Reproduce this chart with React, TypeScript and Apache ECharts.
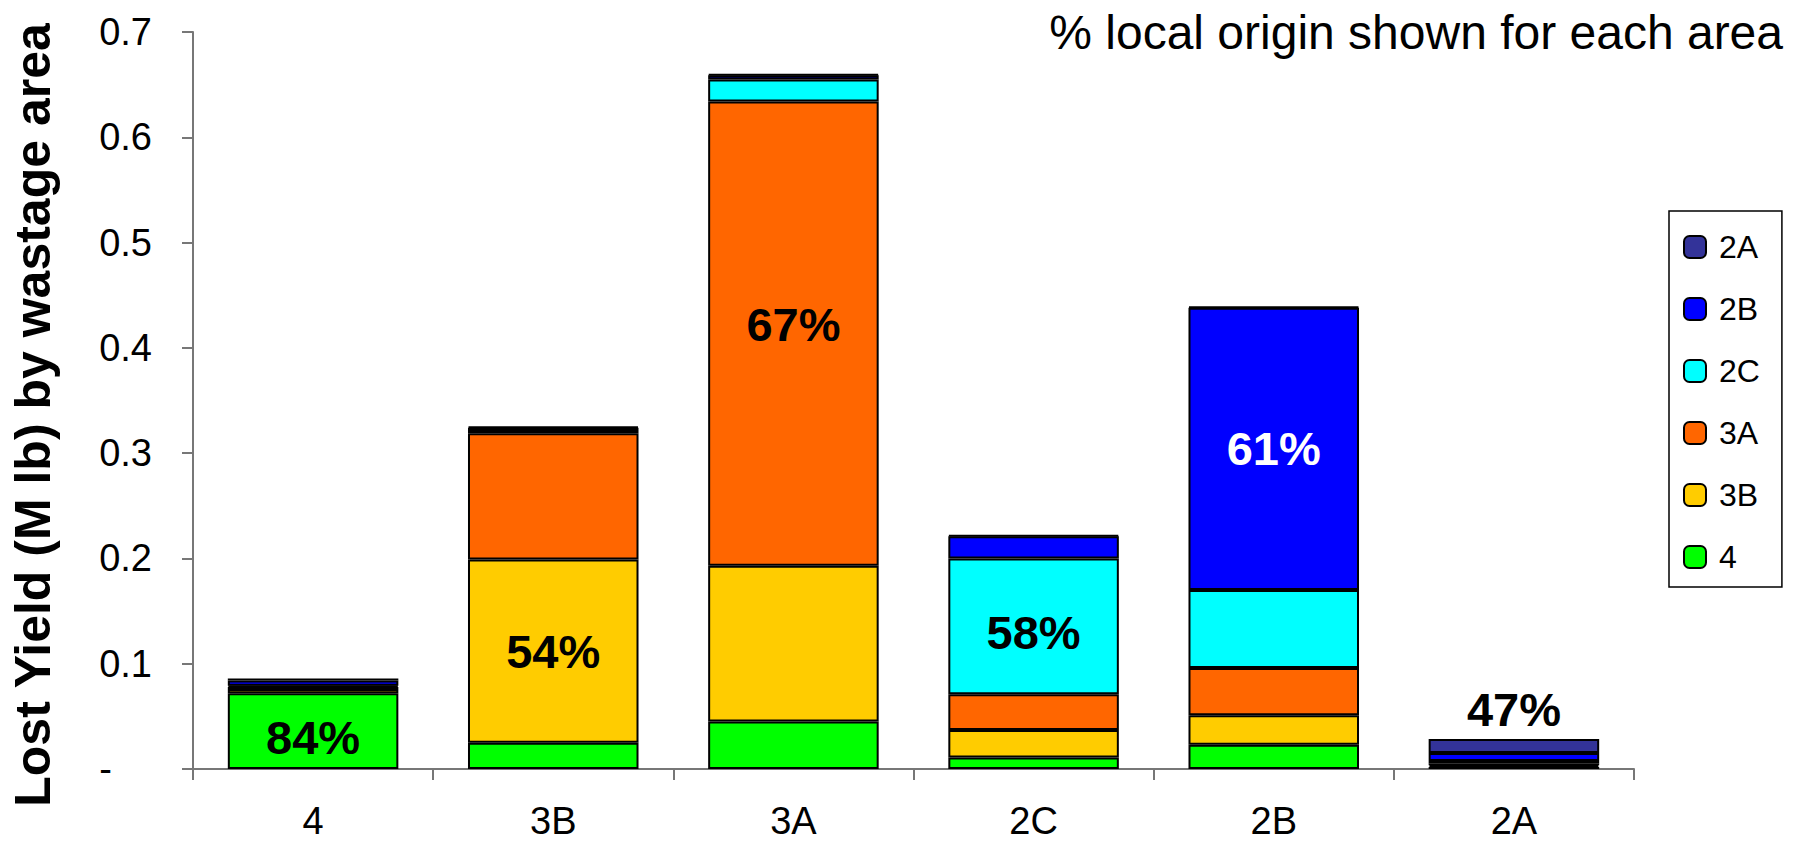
import React, { useEffect, useRef } from "react";
import * as echarts from "echarts";

// Wastage areas along the x axis
const categories = ["4", "3B", "3A", "2C", "2B", "2A"];

// Lost yield (M lb) by area of origin, one value per wastage area
const origin4 = [0.072, 0.025, 0.045, 0.011, 0.023, 0.002];
const origin3B = [0.004, 0.174, 0.148, 0.026, 0.028, 0.0015];
const origin3A = [0.002, 0.12, 0.441, 0.034, 0.045, 0.002];
const origin2C = [0.001, 0.002, 0.021, 0.129, 0.074, 0.0021];
const origin2B = [0.005, 0.003, 0.004, 0.021, 0.268, 0.0075];
const origin2A = [0.002, 0.001, 0.001, 0.001, 0.001, 0.0134];

// Stacking order, bottom to top
const seriesNames = ["4", "3B", "3A", "2C", "2B", "2A"];
const seriesValues = [origin4, origin3B, origin3A, origin2C, origin2B, origin2A];
const seriesColors = ["#00FF00", "#FFCC00", "#FF6600", "#00FFFF", "#0000FF", "#333399"];

const legendOrder = ["2A", "2B", "2C", "3A", "3B", "4"];

const FONT = "'Liberation Sans', Arial, Helvetica, sans-serif";

export default function App() {
  const ref = useRef<HTMLDivElement>(null);

  useEffect(() => {
    if (!ref.current) return;
    const chart = echarts.init(ref.current, undefined, { renderer: "svg" });

    const totals = categories.map((_, ci) =>
      seriesValues.reduce((s, arr) => s + arr[ci], 0)
    );

    const series = seriesNames.map((name, si) => ({
      name,
      type: "bar",
      stack: "total",
      barCategoryGap: "29%",
      itemStyle: { color: seriesColors[si], borderColor: "#000", borderWidth: 2 },
      data: seriesValues[si].map((v, ci) => {
        const isLocal = categories[ci] === name;
        if (!isLocal) return v;
        // share of the wastage area's total that originated locally
        const pct = Math.round((v / totals[ci]) * 100) + "%";
        const onTop = name === "2A";
        return {
          value: v,
          label: {
            show: true,
            position: onTop ? "top" : "inside",
            distance: 6,
            formatter: () => pct,
            color: name === "2B" ? "#fff" : "#000",
            fontFamily: FONT,
            fontWeight: "bold",
            fontSize: 47,
            offset: name === "4" ? [0, 6] : name === "3A" ? [0, -9] : name === "2C" ? [0, 6] : [0, 0],
          },
        };
      }),
    }));

    chart.setOption({
      animation: false,
      backgroundColor: "#fff",
      grid: { left: 193, right: 162, top: 32, bottom: 75, containLabel: false },
      xAxis: {
        type: "category",
        data: categories,
        axisLine: { lineStyle: { color: "#777", width: 2 } },
        axisTick: { show: true, length: 11, lineStyle: { color: "#777", width: 2 } },
        axisLabel: { color: "#000", fontFamily: FONT, fontSize: 38, lineHeight: 38, margin: 33 },
      },
      yAxis: {
        type: "value",
        min: 0,
        max: 0.7,
        interval: 0.1,
        splitLine: { show: false },
        axisLine: { show: true, lineStyle: { color: "#777", width: 2 } },
        axisTick: { show: true, length: 11, lineStyle: { color: "#777", width: 2 } },
        axisLabel: {
          color: "#000",
          fontFamily: FONT,
          fontSize: 38,
          margin: 41,
          formatter: (v: number) => (Math.abs(v) < 1e-9 ? "{dash|-}" : v.toFixed(1)),
          rich: {
            dash: { fontFamily: FONT, fontSize: 38, color: "#000", padding: [0, 40, 0, 0] },
          },
        },
      },
      legend: {
        orient: "vertical",
        left: 1669,
        top: 211,
        data: legendOrder,
        borderColor: "#000",
        borderWidth: 1.5,
        padding: [20, 22, 14, 14],
        itemWidth: 22,
        itemHeight: 22,
        itemGap: 30,
        textStyle: { color: "#000", fontFamily: FONT, fontSize: 32, lineHeight: 32, padding: [0, 0, 0, 8] },
      },
      graphic: [
        {
          type: "text",
          x: 33,
          y: 415,
          rotation: Math.PI / 2,
          style: {
            text: "Lost Yield (M lb) by wastage area",
            font: `bold 50px ${FONT}`,
            fill: "#000",
            align: "center",
            verticalAlign: "middle",
          },
        },
        {
          type: "text",
          x: 1783,
          y: 32,
          style: {
            text: "% local origin shown for each area",
            font: `48px ${FONT}`,
            fill: "#000",
            align: "right",
            verticalAlign: "middle",
          },
        },
      ],
      series,
    });

    return () => chart.dispose();
  }, []);

  return (
    <div
      ref={ref}
      style={{ position: "fixed", left: 0, top: 0, width: 1796, height: 844 }}
    />
  );
}
